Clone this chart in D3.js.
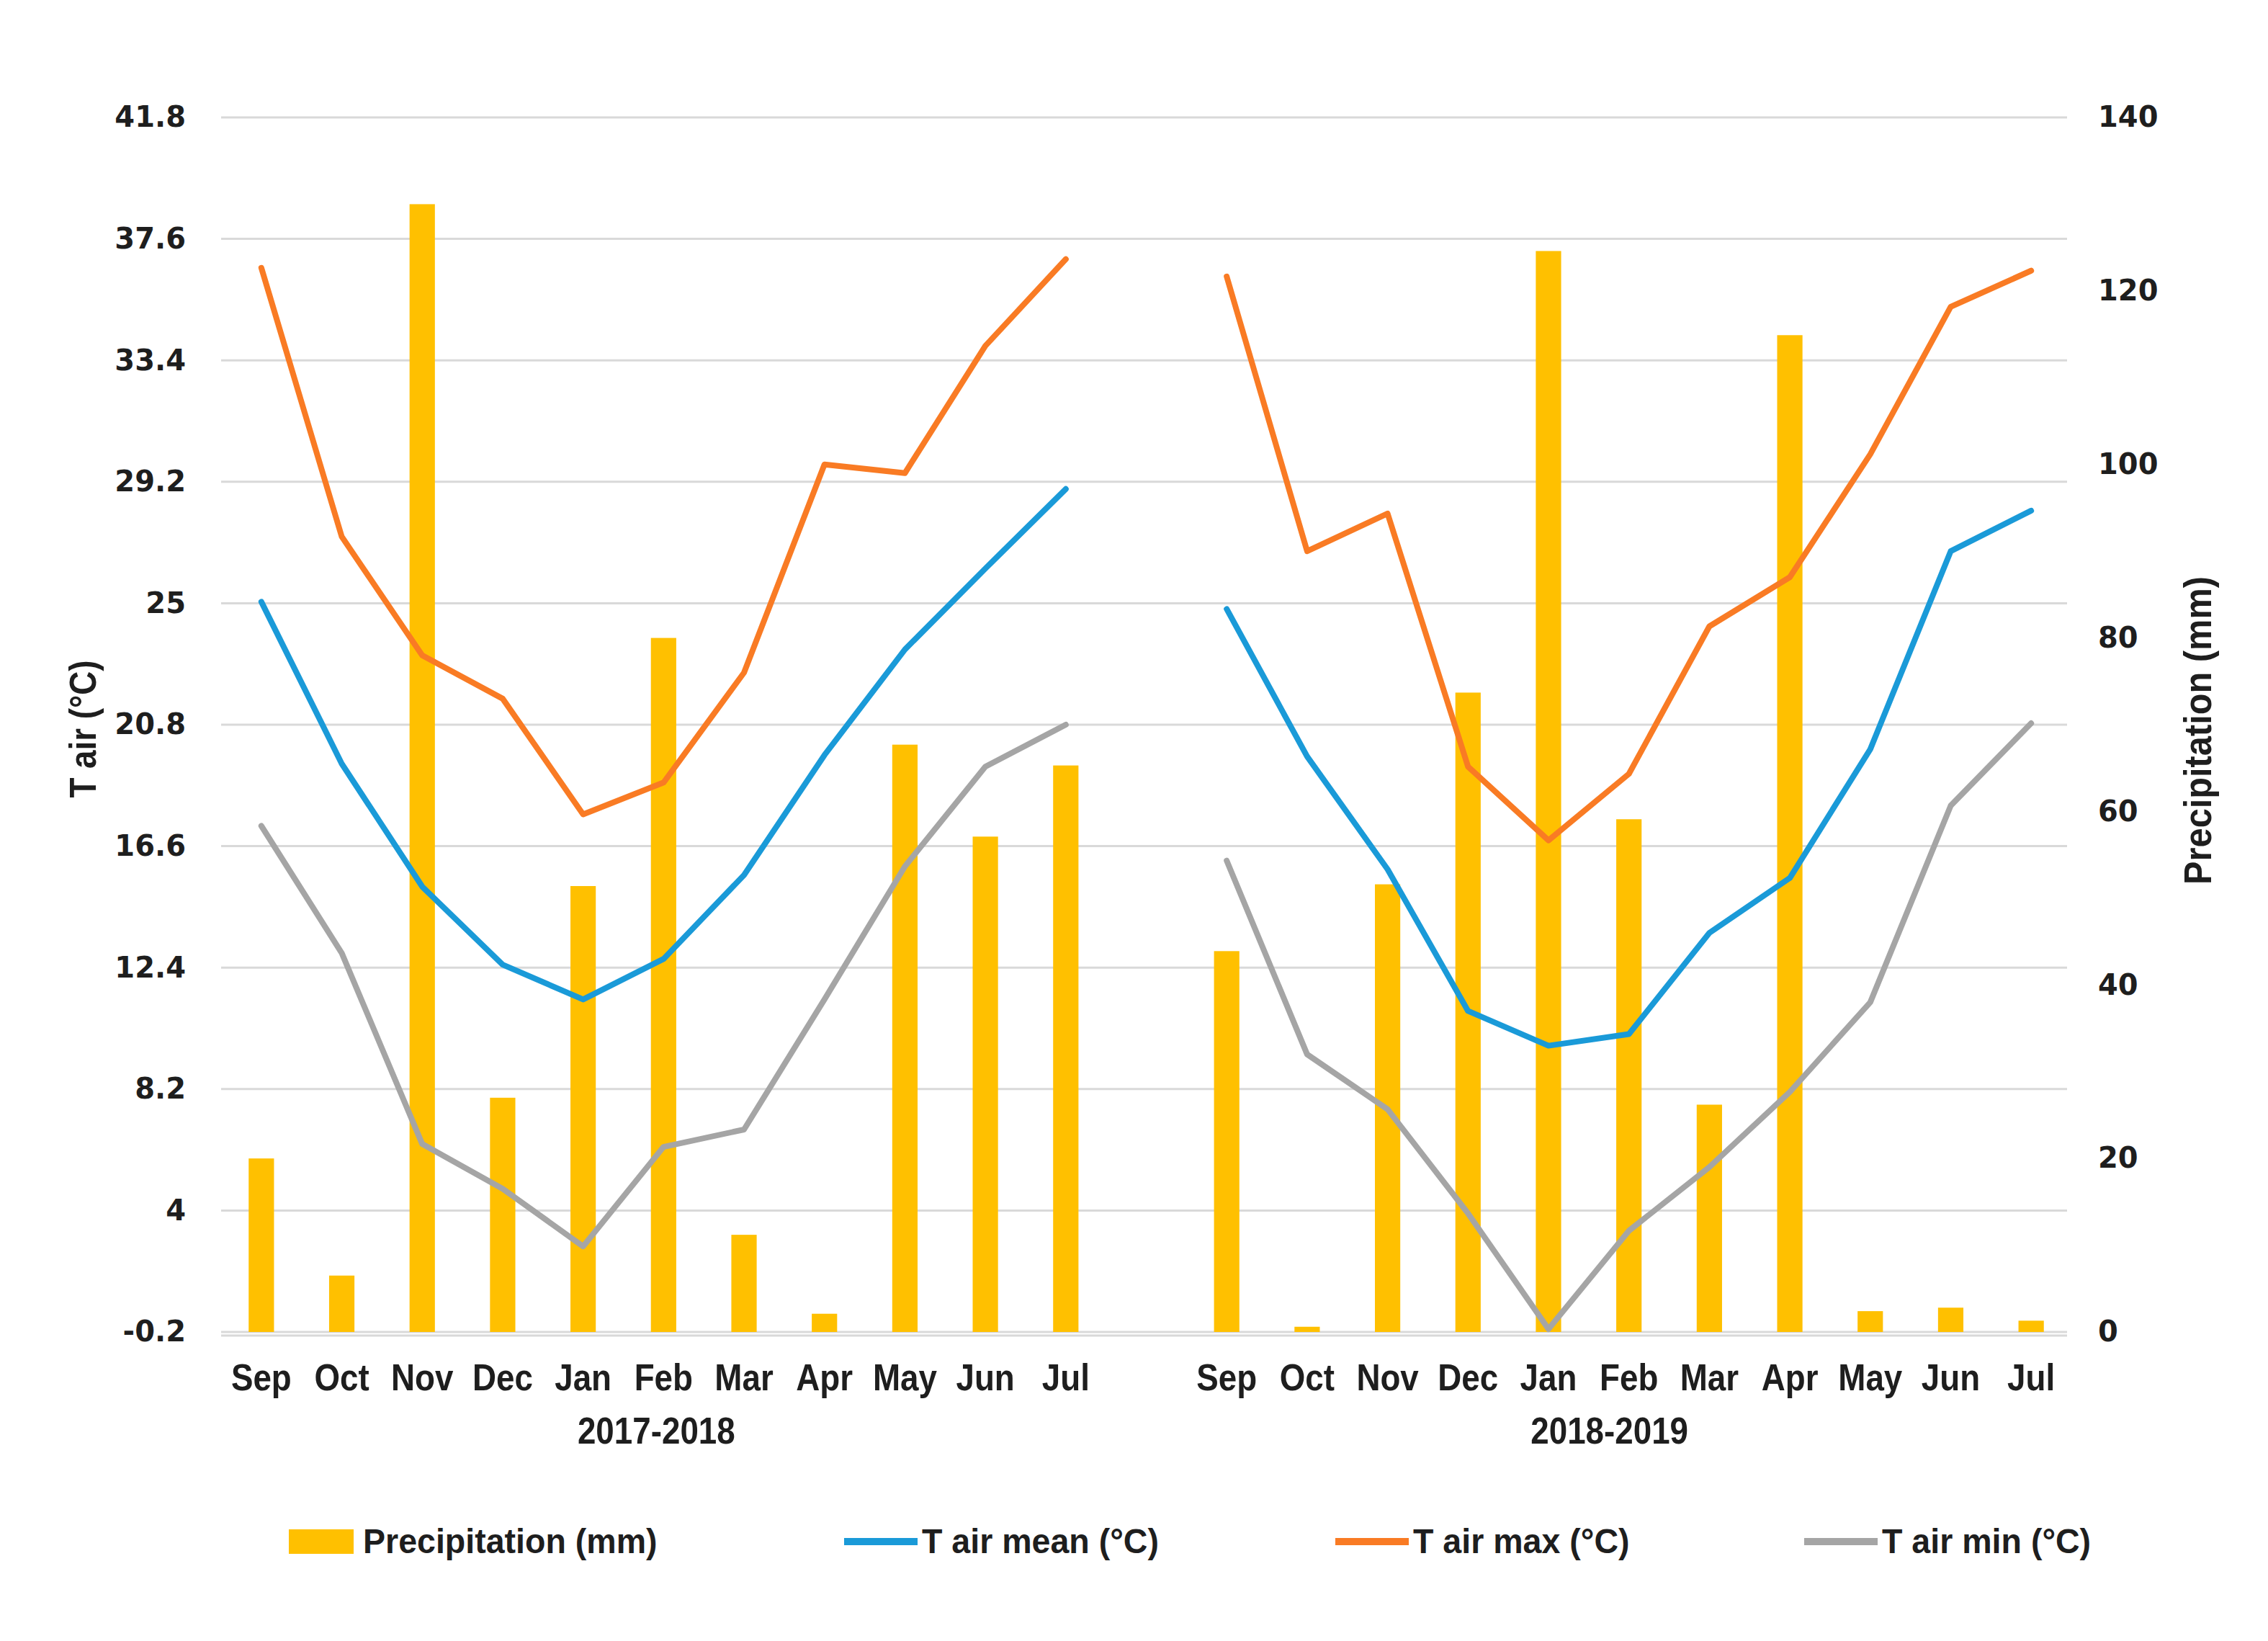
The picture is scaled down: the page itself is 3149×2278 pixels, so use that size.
<!DOCTYPE html>
<html>
<head>
<meta charset="utf-8">
<script src="https://cdn.jsdelivr.net/npm/d3@7"></script>
<style>
  html, body { margin: 0; padding: 0; background: #ffffff; }
  svg { display: block; }
  .cond { font-family: "Liberation Sans", Arial, sans-serif; font-weight: bold; }
  .num { font-family: "DejaVu Sans", Verdana, sans-serif; font-weight: bold; }
</style>
</head>
<body>
<script>
// ---------------- data ----------------
const months = ["Sep","Oct","Nov","Dec","Jan","Feb","Mar","Apr","May","Jun","Jul"];
const seasons = ["2017-2018","2018-2019"];

const precip1718 = [20, 6.5, 130, 27, 51.4, 80, 11.2, 2.1, 67.7, 57.1, 65.3];
const precip1819 = [43.9, 0.6, 51.6, 73.7, 124.6, 59.1, 26.2, 114.9, 2.4, 2.8, 1.3];

const tMean1718 = [25.05, 19.45, 15.2, 12.5, 11.3, 12.7, 15.6, 19.75, 23.4, 26.2, 28.95];
const tMax1718  = [36.6, 27.3, 23.2, 21.7, 17.7, 18.8, 22.6, 29.8, 29.5, 33.9, 36.9];
const tMin1718  = [17.3, 12.9, 6.3, 4.75, 2.76, 6.2, 6.8, 11.3, 15.9, 19.35, 20.8];

const tMean1819 = [24.8, 19.7, 15.8, 10.9, 9.7, 10.1, 13.6, 15.5, 19.95, 26.8, 28.2];
const tMax1819  = [36.3, 26.8, 28.1, 19.35, 16.8, 19.1, 24.2, 25.9, 30.15, 35.25, 36.5];
const tMin1819  = [16.1, 9.4, 7.5, 3.9, -0.1, 3.3, 5.5, 8.1, 11.2, 18.0, 20.85];

const tTicks = [-0.2, 4, 8.2, 12.4, 16.6, 20.8, 25, 29.2, 33.4, 37.6, 41.8];
const pTicks = [0, 20, 40, 60, 80, 100, 120, 140];

const legendLabels = ["Precipitation (mm)", "T air mean (°C)", "T air max (°C)", "T air min (°C)"];
const yTitleLeft = "T air (°C)";
const yTitleRight = "Precipitation (mm)";

// ---------------- build slots (11 months, gap, 11 months) ----------------
const slots = [];
months.forEach((m, i) => slots.push({m, season: 0, i, p: precip1718[i], mean: tMean1718[i], max: tMax1718[i], min: tMin1718[i]}));
slots.push(null);
months.forEach((m, i) => slots.push({m, season: 1, i, p: precip1819[i], mean: tMean1819[i], max: tMax1819[i], min: tMin1819[i]}));

// ---------------- layout ----------------
const W = 3149, H = 2278;
const L = 307, R = 2876, T = 163, B = 1849;
const SX = 0.88;   // horizontal condensing of label text
const FS = 52;

const colors = { precip: "#FFC000", mean: "#1A9AD8", max: "#F97B24", min: "#A5A5A5", grid: "#D9D9D9", text: "#1E1E1E" };

const svg = d3.select("body").append("svg").attr("width", W).attr("height", H)
  .attr("viewBox", `0 0 ${W} ${H}`);
svg.append("rect").attr("width", W).attr("height", H).attr("fill", "#fff");

const x = d3.scaleBand().domain(d3.range(slots.length)).range([L, R]).padding(0);
const yT = d3.scaleLinear().domain([-0.2, 41.8]).range([B, T]);
const yP = d3.scaleLinear().domain([0, 140]).range([B, T]);

function condText(parent, tx, ty, rot, str, anchor, fs, sx) {
  return parent.append("text").attr("class", "cond").attr("font-size", fs || FS).attr("fill", colors.text)
    .attr("text-anchor", anchor || "start")
    .attr("transform", `translate(${tx},${ty}) rotate(${rot}) scale(${sx || SX},1)`).text(str);
}

// gridlines
svg.append("g").selectAll("line").data(tTicks).join("line")
  .attr("x1", L).attr("x2", R - 6)
  .attr("y1", d => yT(d)).attr("y2", d => yT(d))
  .attr("stroke", colors.grid).attr("stroke-width", 3);

// bottom axis line
svg.append("line").attr("x1", L).attr("x2", R - 6).attr("y1", B + 5).attr("y2", B + 5)
  .attr("stroke", colors.grid).attr("stroke-width", 3);

// bars
const barW = x.bandwidth() * 0.315;
svg.append("g").selectAll("rect").data(slots.map((d, k) => ({d, k})).filter(o => o.d))
  .join("rect")
  .attr("x", o => x(o.k) + (x.bandwidth() - barW) / 2)
  .attr("width", barW)
  .attr("y", o => yP(o.d.p))
  .attr("height", o => yP(0) - yP(o.d.p))
  .attr("fill", colors.precip);

// lines
function drawLine(key, color) {
  const line = d3.line()
    .defined(o => o.d !== null)
    .x(o => x(o.k) + x.bandwidth() / 2)
    .y(o => yT(o.d[key]));
  svg.append("path").datum(slots.map((d, k) => ({d, k})))
    .attr("d", line).attr("fill", "none")
    .attr("stroke", color).attr("stroke-width", 8)
    .attr("stroke-linejoin", "round").attr("stroke-linecap", "round");
}
drawLine("mean", colors.mean);
drawLine("max", colors.max);
drawLine("min", colors.min);

// left axis
const axL = svg.append("g").attr("transform", `translate(${L},0)`)
  .call(d3.axisLeft(yT).tickValues(tTicks).tickSize(0).tickPadding(49).tickFormat(d => String(d)));
axL.select(".domain").remove();
axL.selectAll("text").attr("class", "num").attr("font-size", 40).attr("fill", colors.text);

// right axis
const axR = svg.append("g").attr("transform", `translate(${R},0)`)
  .call(d3.axisRight(yP).tickValues(pTicks).tickSize(0).tickPadding(37).tickFormat(d => String(d)));
axR.select(".domain").remove();
axR.selectAll("text").attr("class", "num").attr("font-size", 40).attr("fill", colors.text);

// bottom month labels
const axB = svg.append("g").attr("transform", `translate(0,${B})`)
  .call(d3.axisBottom(x).tickSize(0).tickPadding(44).tickFormat(k => slots[k] ? slots[k].m : ""));
axB.select(".domain").remove();
axB.selectAll("text").attr("class", "cond").attr("font-size", FS).attr("fill", colors.text)
  .attr("transform", `scale(${SX},1)`);

// season labels
const seasonOffset = [-10, -27];
seasons.forEach((s, si) => {
  const ks = slots.map((d, k) => ({d, k})).filter(o => o.d && o.d.season === si).map(o => o.k);
  const cx = (x(ks[0]) + x(ks[ks.length - 1]) + x.bandwidth()) / 2 + seasonOffset[si];
  condText(svg, cx, 2004, 0, s, "middle");
});

// axis titles
condText(svg, 133, 1012, -90, yTitleLeft, "middle");
condText(svg, 3070, 1014, -90, yTitleRight, "middle", 53, 0.92);

// legend
const legendX = [401, 1172, 1854, 2505];
const legendKeys = ["precip", "mean", "max", "min"];
const ly = 2140;
const lg = svg.append("g");
legendKeys.forEach((k, i) => {
  if (k === "precip") {
    lg.append("rect").attr("x", legendX[i]).attr("y", ly - 17).attr("width", 90).attr("height", 34).attr("fill", colors[k]);
  } else {
    lg.append("line").attr("x1", legendX[i]).attr("x2", legendX[i] + 102).attr("y1", ly).attr("y2", ly)
      .attr("stroke", colors[k]).attr("stroke-width", 10);
  }
  condText(lg, legendX[i] + (k === "precip" ? 103 : 108), 2156, 0, legendLabels[i], "start", 48, 0.97);
});
</script>
</body>
</html>
